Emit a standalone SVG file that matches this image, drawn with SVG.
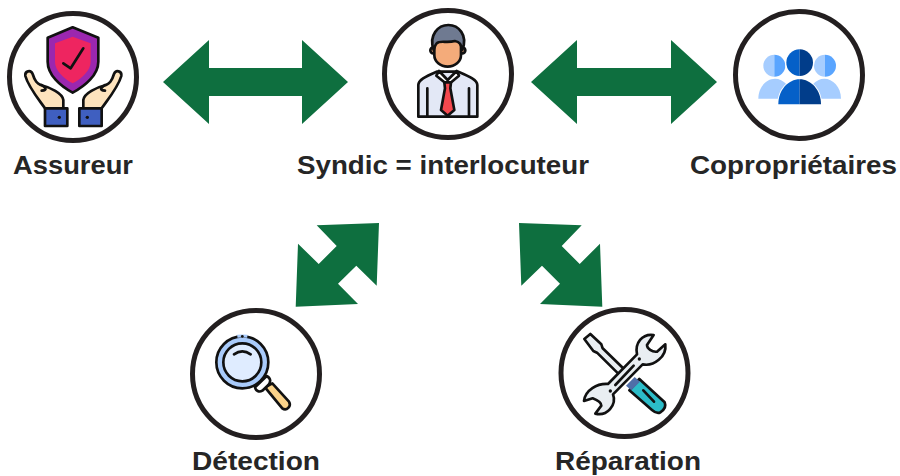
<svg xmlns="http://www.w3.org/2000/svg" width="900" height="476" viewBox="0 0 900 476">
<style>
.ring{fill:#fff;stroke:#231f20;stroke-width:5}
.lbl{font-family:"Liberation Sans",Arial,sans-serif;font-weight:700;font-size:26px;fill:#262626}
.arrow{fill:#0e6f3f}
.k{stroke:#111;stroke-width:8;stroke-linejoin:round;stroke-linecap:round}
.n{fill:none}
</style>
<rect width="900" height="476" fill="#fff"/>
<g id="connectors">
<polygon class="arrow" points="163,82 209,40 209,68 302,68 302,40 348,82 302,124 302,96 209,96 209,124"/>
<polygon class="arrow" points="531,82 577,40 577,68 671,68 671,40 717,82 671,124 671,96 577,96 577,124"/>
<polygon class="arrow" points="316.7,225.3 379,223 376.7,285.7 356.3,265.7 338,283.7 358,304 295.7,306.7 298,243.7 318.7,264 336.7,246"/>
<polygon class="arrow" points="519,223 581.7,225.3 561.7,246 579.7,264 600,243.7 602.3,306.7 540,304 560,283.7 542,265.7 521.3,285.7"/>
</g>
<g id="assureur">
<circle class="ring" cx="73" cy="77" r="63.5"/>
<g transform="scale(.3333)">
<path class="k" fill="#9b27af" d="M218,82 L295,113 L295,185 C295,225 255,258 218,278 C181,258 143,225 143,185 L143,113 Z"/>
<path fill="#ee2560" d="M218,110 L272,130 L272,185 C272,212 245,235 218,250 C191,235 165,212 165,185 L165,130 Z"/>
<path class="k n" d="M190,190 L212,205 L250,145"/>
<g id="hand-left">
<path class="k" fill="#fde3bd" d="M135,325 C110,290 85,260 76,228 C74,213 92,208 98,222 C105,245 112,250 122,255 C150,262 188,280 190,300 L190,325 Z"/>
<path class="k n" d="M125,255 C135,262 145,270 125,272"/>
<rect class="k" fill="#3f5fc0" x="135" y="325" width="67" height="53"/>
<circle cx="178" cy="352" r="5" fill="#111"/>
</g>
<g transform="translate(440,0) scale(-1,1)">
<path class="k" fill="#fde3bd" d="M135,325 C110,290 85,260 76,228 C74,213 92,208 98,222 C105,245 112,250 122,255 C150,262 188,280 190,300 L190,325 Z"/>
<path class="k n" d="M125,255 C135,262 145,270 125,272"/>
<rect class="k" fill="#3f5fc0" x="135" y="325" width="67" height="53"/>
<circle cx="178" cy="352" r="5" fill="#111"/>
</g>
</g>
<text class="lbl" x="73" y="174" text-anchor="middle" textLength="120" lengthAdjust="spacingAndGlyphs">Assureur</text>
</g>
<g id="syndic">
<circle class="ring" cx="448" cy="74" r="63.5"/>
<g transform="translate(375,5) scale(.3333)">
<path class="k" fill="#e3e8f6" d="M130,335 L130,240 C130,225 150,215 185,200 L250,200 C285,215 307,225 307,240 L307,335 Z"/>
<path class="k n" d="M157,335 L157,250 M282,335 L282,250"/>
<path class="k" fill="#fff" d="M192,198 L218,225 L245,198 L252,212 L225,235 L212,235 L184,212 Z"/>
<path class="k" fill="#f5484e" d="M208,232 L228,232 L226,250 L238,315 L218,332 L198,315 L210,250 Z"/>
<circle class="k" fill="#f4ab7a" cx="175" cy="136" r="9"/>
<circle class="k" fill="#f4ab7a" cx="262" cy="136" r="9"/>
<path class="k" fill="#f4ab7a" d="M178,105 L258,105 L258,150 C258,170 240,185 218,185 C196,185 178,170 178,150 Z"/>
<path class="k" fill="#6f7a91" d="M176,135 C160,90 190,60 220,60 C250,60 280,90 262,135 C258,120 255,110 240,108 C215,115 195,105 185,115 C180,120 178,128 176,135 Z"/>
</g>
<text class="lbl" x="443" y="174" text-anchor="middle" textLength="292" lengthAdjust="spacingAndGlyphs">Syndic = interlocuteur</text>
</g>
<g id="coproprietaires">
<circle class="ring" cx="799" cy="75" r="63.5"/>
<g transform="translate(725,5) scale(.3333)">
<path fill="#a6cdff" d="M100,281 C100,245 125,221 150,221 C175,221 200,245 200,281 Z"/>
<path fill="#a6cdff" d="M248,281 C248,245 273,221 298,221 C323,221 348,245 348,281 Z"/>
<path fill="#a6cdff" d="M148,149 A33,33 0 0 0 148,215 Z"/>
<path fill="#5aa5ff" d="M148,149 A33,33 0 0 1 148,215 Z"/>
<path fill="#a6cdff" d="M300,149 A33,33 0 0 0 300,215 Z"/>
<path fill="#5aa5ff" d="M300,149 A33,33 0 0 1 300,215 Z"/>
<circle cx="224" cy="173" r="44" fill="#fff"/>
<path fill="#fff" stroke="#fff" stroke-width="6" d="M160,298 C160,255 190,223 224,223 C258,223 288,255 288,298 Z"/>
<path fill="#0560c8" d="M160,298 C160,255 190,223 224,223 L224,298 Z"/>
<path fill="#013d8a" d="M288,298 C288,255 258,223 224,223 L224,298 Z"/>
<path fill="#0560c8" d="M224,133 A40,40 0 0 0 224,213 Z"/>
<path fill="#013d8a" d="M224,133 A40,40 0 0 1 224,213 Z"/>
</g>
<text class="lbl" x="793.5" y="174" text-anchor="middle" textLength="207" lengthAdjust="spacingAndGlyphs">Copropriétaires</text>
</g>
<g id="detection">
<circle class="ring" cx="256" cy="374" r="63.5"/>
<g transform="translate(185,300) scale(.3333)">
<path class="k" fill="#fbd38a" d="M240,262 L262,250 L312,305 C320,318 305,335 292,325 Z"/>
<path class="k" fill="#fff" d="M210,262 L245,228 C258,235 258,245 250,255 L232,272 C222,278 212,272 210,262 Z"/>
<circle class="k" fill="#a9cbfb" cx="172" cy="187" r="78"/>
<path stroke="#a9cbfb" stroke-width="9" fill="none" d="M157,108.500 Q172,107 187,108.500"/>
<circle cx="172" cy="109" r="4" fill="#111"/>
<circle class="k" fill="#dfecff" cx="172" cy="187" r="57"/>
<path class="k n" d="M147,163 Q172,145 197,163"/>
</g>
<text class="lbl" x="256" y="470" text-anchor="middle" textLength="128" lengthAdjust="spacingAndGlyphs">Détection</text>
</g>
<g id="reparation">
<circle class="ring" cx="624.500" cy="373" r="63.5"/>
<g transform="translate(552,315) scale(.3333)">
<path class="k" fill="#e9eef2" d="M97,72 L115,57 L148,88 L152,100 L226,172 L211,188 L135,113 L124,108 Z"/>
<path class="k" fill="#2cbcc8" d="M262,192 L338,262 Q345,280 325,292 Q315,298 300,285 L232,226 Z"/>
<path class="k n" d="M274,226 L306,260" stroke-width="6"/>
<path fill="#4f6ea8" d="M248,186 L264,200 L238,226 L222,212 Z"/>
<path class="k" fill="#e9eef2" d="M305,60 C270,55 248,85 255,118 L168,207 C135,205 100,225 96,258 L122,250 C135,255 148,262 148,272 L130,296 C165,305 195,270 183,238 L272,148 C305,155 345,125 340,88 L315,110 C300,112 285,100 285,90 Z"/>
<path class="k n" d="M190,210 L245,152"/>
<circle cx="175" cy="228" r="5" fill="#111"/>
<circle cx="262" cy="132" r="5" fill="#111"/>
</g>
<text class="lbl" x="628" y="470" text-anchor="middle" textLength="146" lengthAdjust="spacingAndGlyphs">Réparation</text>
</g>
</svg>
